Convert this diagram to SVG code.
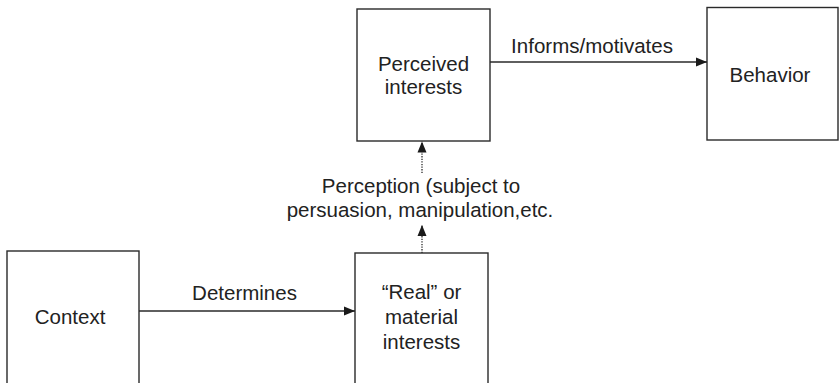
<svg xmlns="http://www.w3.org/2000/svg" width="839" height="383" viewBox="0 0 839 383">
<style>
.box{fill:#fff;stroke:#2a2a2a;stroke-width:1.4}
.lbl{font-family:"Liberation Sans",Arial,sans-serif;font-size:20.5px;fill:#222;text-anchor:middle}
.ln{stroke:#2a2a2a;stroke-width:1.3;fill:none}
.dot{stroke:#2a2a2a;stroke-width:1.3;fill:none;stroke-dasharray:1.3 1.3}
</style>
<defs>
<marker id="ah" markerUnits="userSpaceOnUse" markerWidth="12" markerHeight="10" refX="11" refY="5" orient="auto">
<path d="M0,0.5 L11,5 L0,9.5 Z" fill="#1a1a1a"/>
</marker>
</defs>
<rect width="839" height="383" fill="#fff"/>
<g id="perceived">
<rect class="box" x="357" y="9" width="133" height="132"/>
<text class="lbl" x="423.5" y="71">Perceived</text>
<text class="lbl" x="423.5" y="94">interests</text>
</g>
<g id="behavior">
<rect class="box" x="707" y="7.5" width="131" height="132.5"/>
<text class="lbl" x="770" y="82">Behavior</text>
</g>
<g id="context">
<rect class="box" x="7" y="251" width="132" height="140"/>
<text class="lbl" x="70" y="324">Context</text>
</g>
<g id="real">
<rect class="box" x="355" y="253" width="133" height="140"/>
<text class="lbl" x="421.5" y="299">“Real” or</text>
<text class="lbl" x="421.5" y="324">material</text>
<text class="lbl" x="421.5" y="349">interests</text>
</g>
<g id="connectors">
<line class="ln" x1="490" y1="62" x2="707" y2="62" marker-end="url(#ah)"/>
<text class="lbl" x="592" y="53">Informs/motivates</text>
<line class="ln" x1="139" y1="311" x2="355" y2="311" marker-end="url(#ah)"/>
<text class="lbl" x="244.5" y="300">Determines</text>
<line class="dot" x1="422" y1="253" x2="422" y2="225" marker-end="url(#ah)"/>
<line class="dot" x1="422" y1="173" x2="422" y2="141.5" marker-end="url(#ah)"/>
<text class="lbl" x="421" y="193">Perception (subject to</text>
<text class="lbl" x="420" y="217">persuasion, manipulation,etc.</text>
</g>
</svg>
